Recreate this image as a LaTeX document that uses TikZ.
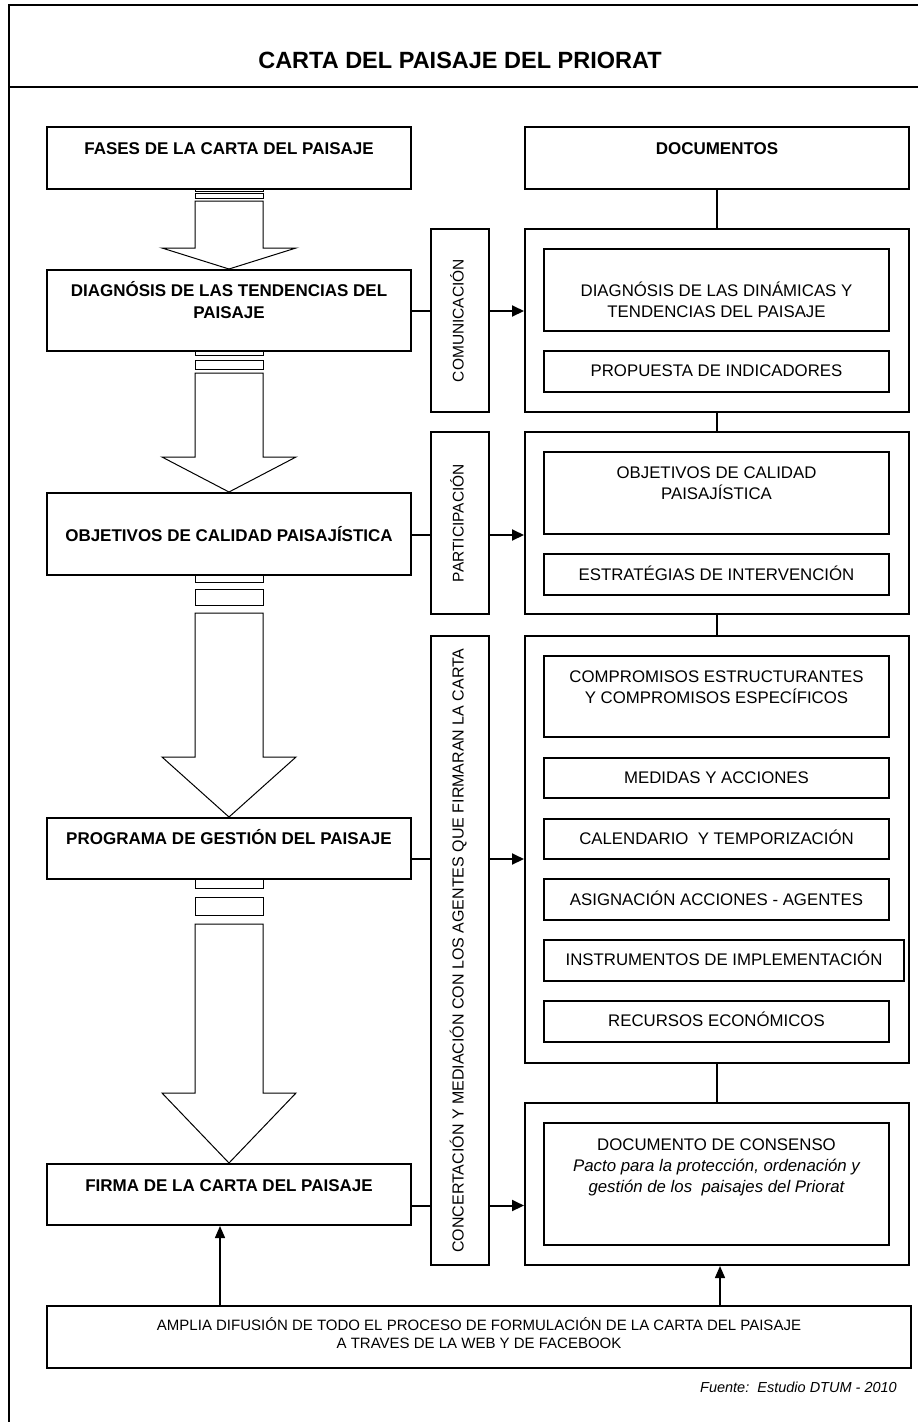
\documentclass[tikz,border=0pt]{standalone}
\usepackage{fontspec}
\setmainfont{Liberation Sans}
\usetikzlibrary{arrows.meta,fit,calc}
\begin{document}
\begin{tikzpicture}[x=1pt,y=-1pt,
  frame/.style={line width=2pt},
  phase/.style={draw,line width=2pt,inner sep=0pt},
  outerdoc/.style={draw,line width=2pt,inner sep=0pt},
  innerdoc/.style={draw,line width=1.3pt,inner sep=0pt},
  vbox/.style={draw,line width=1.3pt,inner sep=0pt},
  blk/.style={draw,line width=1pt,fill=white},
  conn/.style={line width=2pt},
  arr/.style={line width=2pt,-{Triangle[length=12pt,width=11pt]}},
  uparr/.style={line width=1.5pt,-{Triangle[length=12pt,width=10pt]}},
  ptxt/.style={font=\fontsize{17}{21.5}\selectfont\bfseries,anchor=base,align=center,inner sep=0pt},
  dtxt/.style={font=\fontsize{16.8}{21}\selectfont,anchor=base,align=center,inner sep=0pt},
  vtxt/.style={font=\fontsize{15.5}{18}\selectfont,anchor=base,rotate=90,inner sep=0pt},
]
\useasboundingbox (0,0) rectangle (918,1422);
\clip (0,0) rectangle (918,1422);
\fill[white] (0,0) rectangle (918,1422);

% frame
\draw[frame] (925,5) -- (9,5) -- (9,1430);
\draw[frame] (9,87) -- (925,87);
\node[font=\fontsize{23.5}{28}\selectfont\bfseries,anchor=base,inner sep=0pt] (title) at (460,68.4) {CARTA DEL PAISAJE DEL PRIORAT};

% block arrows (drawn first)
\draw[blk] (195,188.5) rectangle (263,191);
\draw[blk] (195,193) rectangle (263,198);
\draw[blk] (195,201) -- (263,201) -- (263,248) -- (296,248) -- (229,269) -- (162,248) -- (195,248) -- cycle;

\draw[blk] (195,351) rectangle (263,355);
\draw[blk] (195,360) rectangle (263,369);
\draw[blk] (195,373) -- (263,373) -- (263,457) -- (296,457) -- (229,492) -- (162,457) -- (195,457) -- cycle;

\draw[blk] (195,575) rectangle (263,582);
\draw[blk] (195,589) rectangle (263,605);
\draw[blk] (195,613) -- (263,613) -- (263,757) -- (296,757) -- (229,817) -- (162,757) -- (195,757) -- cycle;

\draw[blk] (195,879) rectangle (263,888);
\draw[blk] (195,897) rectangle (263,915);
\draw[blk] (195,924) -- (263,924) -- (263,1093) -- (296,1093) -- (229,1163) -- (162,1093) -- (195,1093) -- cycle;

% phase boxes
\node[phase,fit={(47,127) (411,189)}] (fases) {};
\node[phase,fit={(47,270) (411,351)}] (diag) {};
\node[phase,fit={(47,493) (411,575)}] (obj) {};
\node[phase,fit={(47,818) (411,879)}] (prog) {};
\node[phase,fit={(47,1164) (411,1225)}] (firma) {};

\node[ptxt] (tfases) at (229,154) {FASES DE LA CARTA DEL PAISAJE};
\node[ptxt] (tdiag) at (229,318) {DIAGNÓSIS DE LAS TENDENCIAS DEL\\PAISAJE};
\node[ptxt] (tobj) at (229,541) {OBJETIVOS DE CALIDAD PAISAJÍSTICA};
\node[ptxt] (tprog) at (229,844) {PROGRAMA DE GESTIÓN DEL PAISAJE};
\node[ptxt] (tfirma) at (229,1191) {FIRMA DE LA CARTA DEL PAISAJE};

% documents column
\node[outerdoc,fit={(525,127) (909,189)}] (docs) {};
\node[ptxt] (tdocs) at (717,154) {DOCUMENTOS};

\node[outerdoc,fit={(525,229) (909,412)}] (d1) {};
\node[innerdoc,fit={(544,249) (889,331)}] (d1a) {};
\node[innerdoc,fit={(544,351) (889,392)}] (d1b) {};
\node[dtxt] (td1a) at (716.5,317) {DIAGNÓSIS DE LAS DINÁMICAS Y\\TENDENCIAS DEL PAISAJE};
\node[dtxt] (td1b) at (716.5,376.7) {PROPUESTA DE INDICADORES};

\node[outerdoc,fit={(525,432) (909,614)}] (d2) {};
\node[innerdoc,fit={(544,452) (889,534)}] (d2a) {};
\node[innerdoc,fit={(544,554) (889,595)}] (d2b) {};
\node[dtxt] (td2a) at (716.5,499) {OBJETIVOS DE CALIDAD\\PAISAJÍSTICA};
\node[dtxt] (td2b) at (716.5,580) {ESTRATÉGIAS DE INTERVENCIÓN};

\node[outerdoc,fit={(525,636) (909,1063)}] (d3) {};
\node[innerdoc,fit={(544,656) (889,737)}] (c1) {};
\node[innerdoc,fit={(544,758) (889,798)}] (c2) {};
\node[innerdoc,fit={(544,819) (889,859)}] (c3) {};
\node[innerdoc,fit={(544,879) (889,920)}] (c4) {};
\node[innerdoc,fit={(544,940) (904,981)}] (c5) {};
\node[innerdoc,fit={(544,1001) (889,1042)}] (c6) {};
\node[dtxt] (tc1) at (716.5,703) {COMPROMISOS ESTRUCTURANTES\\Y COMPROMISOS ESPECÍFICOS};
\node[dtxt] (tc2) at (716.5,783) {MEDIDAS Y ACCIONES};
\node[dtxt] (tc3) at (716.5,844) {CALENDARIO\ \ Y TEMPORIZACIÓN};
\node[dtxt] (tc4) at (716.5,905) {ASIGNACIÓN ACCIONES - AGENTES};
\node[dtxt] (tc5) at (724,965) {INSTRUMENTOS DE IMPLEMENTACIÓN};
\node[dtxt] (tc6) at (716.5,1026) {RECURSOS ECONÓMICOS};

\node[outerdoc,fit={(525,1103) (909,1265)}] (d4) {};
\node[innerdoc,fit={(544,1123) (889,1245)}] (d4a) {};
\node[dtxt] (td4a) at (716.5,1192) {DOCUMENTO DE CONSENSO\\\itshape Pacto para la protección, ordenación y\\\itshape gestión de los\ \ paisajes del Priorat};

% vertical label boxes
\node[vbox,fit={(431,229) (489,412)}] (com) {};
\node[vbox,fit={(431,432) (489,614)}] (part) {};
\node[vbox,fit={(431,636) (489,1265)}] (conc) {};
\node[vtxt] (tcom) at (463.5,320.5) {COMUNICACIÓN};
\node[vtxt] (tpart) at (463.5,523) {PARTICIPACIÓN};
\node[vtxt,font=\fontsize{16}{18}\selectfont] (tconc) at (463.5,950.5) {CONCERTACIÓN Y MEDIACIÓN CON LOS AGENTES QUE FIRMARAN LA CARTA};

% vertical connectors between document boxes
\draw[conn] (docs.south) -- (d1.north);
\draw[conn] (d1.south) -- (d2.north);
\draw[conn] (d2.south) -- (d3.north);
\draw[conn] (d3.south) -- (d4.north);

% horizontal connectors
\coordinate (h1) at (0,311);
\coordinate (h2) at (0,535);
\coordinate (h3) at (0,859);
\coordinate (h4) at (0,1205.5);
\draw[conn] (diag.east |- h1) -- (com.west |- h1);
\draw[arr] (com.east |- h1) -- (d1.west |- h1);
\draw[conn] (obj.east |- h2) -- (part.west |- h2);
\draw[arr] (part.east |- h2) -- (d2.west |- h2);
\draw[conn] (prog.east |- h3) -- (conc.west |- h3);
\draw[arr] (conc.east |- h3) -- (d3.west |- h3);
\draw[conn] (firma.east |- h4) -- (conc.west |- h4);
\draw[arr] (conc.east |- h4) -- (d4.west |- h4);

% diffusion box
\node[innerdoc,line width=1.5pt,fit={(47,1306) (911,1368)}] (amplia) {};
\node[font=\fontsize{15}{18}\selectfont,anchor=base,align=center,inner sep=0pt] (tamplia) at (479,1348.4) {AMPLIA DIFUSIÓN DE TODO EL PROCESO DE FORMULACIÓN DE LA CARTA DEL PAISAJE\\A TRAVES DE LA WEB Y DE FACEBOOK};
\coordinate (u1) at (220,0);
\coordinate (u2) at (720,0);
\draw[uparr] (amplia.north -| u1) -- (firma.south -| u1);
\draw[uparr] (amplia.north -| u2) -- (d4.south -| u2);

\node[font=\fontsize{14.5}{17}\selectfont\itshape,anchor=base east,inner sep=0pt] (fuente) at (897,1392) {Fuente:\ \ Estudio DTUM - 2010};
\end{tikzpicture}
\end{document}
